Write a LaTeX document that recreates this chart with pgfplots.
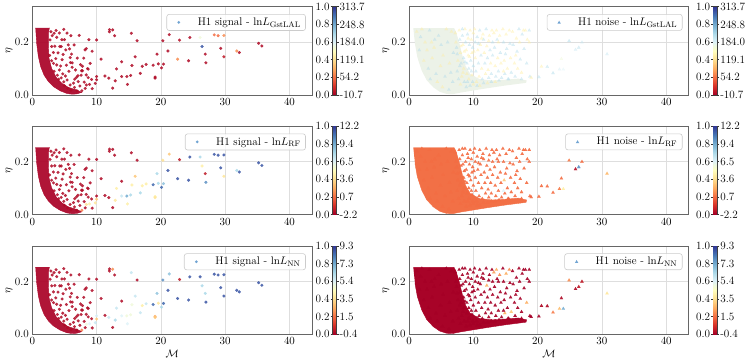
\documentclass[border=0pt]{standalone}
\usepackage{pgfplots}
\pgfplotsset{compat=1.18}
\usepackage{pgfplotstable}
\definecolor{sigred}{RGB}{172,8,44}
\definecolor{noiseor}{RGB}{242,112,70}
\definecolor{noisered}{RGB}{168,3,40}
\definecolor{noisepale}{RGB}{236,242,232}
\definecolor{legblue}{RGB}{78,142,200}
\pgfplotsset{
 colormap={RdYlBu}{rgb255=(165,0,38) rgb255=(215,48,39) rgb255=(244,109,67) rgb255=(253,174,97) rgb255=(254,224,144) rgb255=(255,255,191) rgb255=(224,243,248) rgb255=(171,217,233) rgb255=(116,173,209) rgb255=(69,117,180) rgb255=(49,54,149)},
 every axis/.append style={font=\fontsize{11.2}{13}\selectfont},
 panel/.style={anchor=south west, scale only axis, width=279.7bp, height=88.3bp,
   xmin=0, xmax=43.5, ymin=0, ymax=0.335,
   xtick={0,10,20,30,40}, ytick={0,0.2}, yticklabels={0.0,0.2},
   major tick length=0pt, grid=major, grid style={black!13, line width=0.6bp},
   axis line style={black!60, line width=0.75bp},
   ylabel={$\eta$}, ylabel style={at={(axis description cs:-0.083,0.5)}, anchor=center},
   colormap name=RdYlBu, point meta min=0, point meta max=1,
   legend cell align=left,
   legend style={at={(0.978,0.917)}, anchor=north east, draw=black!20, line width=0.6bp,
     rounded corners=2.5bp, fill=white, fill opacity=0.8, text opacity=1, draw opacity=1,
     inner xsep=3bp, inner ysep=1.5bp, font=\fontsize{11.2}{13}\selectfont},
 },
 siglegend/.style={legend image code/.code={\path[draw=none,fill=none] (0bp,-2bp) rectangle (26bp,2bp); \fill[legblue,draw=none,rounded corners=0pt] (9bp,0bp) circle (1.5bp);}},
 noiselegend/.style={legend image code/.code={\path[draw=none,fill=none] (0bp,-2bp) rectangle (26bp,2bp); \fill[legblue,draw=none,rounded corners=0pt] (7.3bp,-1.3bp) -- (10.7bp,-1.3bp) -- (9bp,1.7bp) -- cycle;}},
 cbbase/.style={anchor=south west, scale only axis, width=3.8bp, height=88.3bp,
   xmin=0, xmax=1, ymin=0, ymax=1, xtick=\empty, ytick={0,0.2,0.4,0.6,0.8,1},
   ytick align=outside, major tick length=2bp,
   tick style={black!80, line width=0.5bp}, axis line style={black!75, line width=0.5bp},
   colormap name=RdYlBu, point meta min=0, point meta max=1,
   yticklabel style={inner xsep=1bp}},
 cbarA/.style={cbbase, ytick pos=left, yticklabel pos=left, yticklabels={0.0,0.2,0.4,0.6,0.8,1.0}},
 cbarB/.style={cbbase, axis x line=none, axis y line*=right, ytick pos=right, yticklabel pos=right},
 sigscat/.style={scatter, only marks, mark=*, mark size=1.5bp, scatter src=explicit, forget plot,
   scatter/use mapped color={draw=mapped color, fill=mapped color}, mark options={line width=0.1bp}, opacity=0.85},
 noisescat/.style={scatter, only marks, mark=triangle*, mark size=1.9bp, scatter src=explicit, forget plot,
   scatter/use mapped color={draw=mapped color, fill=mapped color}, mark options={line width=0.1bp}, opacity=#1},
}
\newcommand{\cbar}[3]{%
\begin{axis}[cbarA, at={(#1,#2)}]
\addplot[surf, shader=interp, mesh/rows=2, point meta=explicit] coordinates {(0,0) [0] (1,0) [0] (0,1) [1] (1,1) [1]};
\end{axis}
\begin{axis}[cbarB, at={(#1,#2)}, yticklabels={#3}]
\end{axis}}

\pgfplotstableread{
x y g r n
3.39 0.234 0.02 0.02 0.02
3.80 0.219 0.02 0.02 0.02
4.27 0.184 0.02 0.02 0.02
4.79 0.154 0.02 0.02 0.02
5.21 0.171 0.02 0.02 0.02
4.64 0.134 0.02 0.02 0.02
5.31 0.113 0.02 0.02 0.02
5.94 0.123 0.02 0.02 0.02
6.20 0.105 0.02 0.02 0.02
6.72 0.095 0.02 0.02 0.02
7.50 0.115 0.02 0.02 0.02
7.66 0.092 0.02 0.02 0.02
8.59 0.100 0.02 0.02 0.02
8.39 0.076 0.02 0.02 0.02
6.88 0.067 0.02 0.02 0.02
7.14 0.051 0.02 0.02 0.02
7.40 0.034 0.02 0.02 0.02
8.07 0.049 0.02 0.02 0.02
8.70 0.066 0.02 0.02 0.02
9.22 0.059 0.02 0.02 0.02
9.32 0.024 0.02 0.02 0.02
8.23 0.025 0.02 0.02 0.02
6.93 0.016 0.02 0.02 0.02
6.56 0.029 0.02 0.02 0.02
5.89 0.038 0.02 0.02 0.02
5.42 0.057 0.02 0.02 0.02
5.16 0.072 0.02 0.02 0.02
4.74 0.080 0.02 0.02 0.02
4.22 0.095 0.02 0.02 0.02
3.80 0.114 0.02 0.02 0.02
3.65 0.138 0.02 0.02 0.02
3.28 0.161 0.02 0.02 0.02
3.02 0.184 0.02 0.02 0.02
2.76 0.209 0.02 0.02 0.02
2.9 0.240 0.02 0.02 0.02
3.1 0.225 0.02 0.02 0.02
2.7 0.150 0.02 0.02 0.02
3.0 0.130 0.02 0.02 0.02
3.3 0.120 0.02 0.02 0.02
3.4 0.090 0.02 0.02 0.02
3.9 0.075 0.02 0.02 0.02
4.1 0.060 0.02 0.02 0.02
4.5 0.065 0.02 0.02 0.02
4.9 0.050 0.02 0.02 0.02
5.0 0.035 0.02 0.02 0.02
5.5 0.025 0.02 0.02 0.02
6.0 0.018 0.02 0.02 0.02
6.4 0.045 0.02 0.02 0.02
5.7 0.090 0.02 0.02 0.02
4.4 0.110 0.02 0.02 0.02
4.0 0.160 0.02 0.02 0.02
3.5 0.185 0.02 0.02 0.02
3.7 0.245 0.02 0.02 0.02
4.2 0.235 0.02 0.02 0.02
5.0 0.210 0.02 0.02 0.02
5.4 0.235 0.02 0.02 0.02
6.5 0.190 0.02 0.02 0.02
7.0 0.140 0.02 0.02 0.02
6.6 0.060 0.02 0.02 0.02
7.6 0.075 0.02 0.02 0.02
8.0 0.140 0.02 0.02 0.02
9.0 0.120 0.02 0.02 0.02
8.8 0.210 0.02 0.02 0.02
4.9 0.249 0.02 0.02 0.02
6.0 0.225 0.02 0.02 0.02
7.3 0.226 0.02 0.02 0.02
10.0 0.209 0.02 0.02 0.02
12.0 0.248 0.02 0.02 0.02
12.0 0.240 0.02 0.02 0.02
12.5 0.247 0.02 0.02 0.25
12.8 0.225 0.02 0.02 0.02
15.4 0.234 0.02 0.02 0.65
16.3 0.206 0.02 0.02 0.02
4.6 0.210 0.02 0.02 0.02
5.6 0.190 0.02 0.02 0.02
5.8 0.175 0.02 0.02 0.02
4.5 0.184 0.02 0.02 0.02
6.1 0.155 0.02 0.02 0.02
5.9 0.142 0.02 0.02 0.02
8.2 0.171 0.02 0.02 0.02
8.4 0.176 0.02 0.02 0.02
9.3 0.166 0.02 0.02 0.02
6.2 0.122 0.02 0.02 0.02
7.8 0.109 0.02 0.02 0.02
8.7 0.098 0.02 0.02 0.02
7.8 0.092 0.02 0.02 0.02
7.1 0.073 0.02 0.02 0.02
10.7 0.136 0.02 0.02 0.02
10.0 0.070 0.02 0.02 0.62
11.3 0.072 0.02 0.02 0.02
11.9 0.064 0.02 0.02 0.65
12.5 0.026 0.02 0.02 0.02
13.9 0.126 0.02 0.02 0.02
13.9 0.070 0.02 0.65 0.60
13.1 0.099 0.02 0.45 0.65
12.9 0.054 0.02 0.42 0.70
14.7 0.070 0.02 0.80 0.55
15.3 0.074 0.02 0.70 0.55
14.8 0.040 0.02 0.45 0.60
15.5 0.112 0.02 0.45 0.55
16.0 0.145 0.02 0.35 0.65
16.8 0.082 0.02 0.70 0.65
17.1 0.109 0.02 0.45 0.45
17.7 0.116 0.02 0.45 0.65
18.8 0.113 0.02 0.92 0.92
19.6 0.118 0.02 0.70 0.42
20.4 0.117 0.02 0.75 0.92
20.1 0.103 0.02 0.92 0.70
19.4 0.155 0.02 0.70 0.75
19.1 0.068 0.02 0.45 0.30
19.1 0.064 0.02 0.42 0.35
21.1 0.167 0.02 0.95 0.95
21.3 0.229 0.02 0.35 0.75
20.3 0.206 0.02 0.40 0.85
22.9 0.208 0.03 0.05 0.05
22.6 0.136 0.25 0.95 0.95
24.3 0.130 0.02 0.95 0.95
24.5 0.218 0.02 0.95 0.95
26.1 0.218 0.55 0.70 0.95
26.4 0.184 0.95 0.45 0.70
26.9 0.155 0.02 0.05 0.70
27.0 0.122 0.02 0.85 0.95
28.3 0.228 0.20 0.95 0.95
28.9 0.225 0.20 0.95 0.95
29.8 0.226 0.25 0.95 0.95
29.3 0.177 0.02 0.95 0.95
29.8 0.145 0.05 0.42 0.95
31.8 0.167 0.25 0.70 0.95
32.2 0.161 0.02 0.95 0.95
35.2 0.196 0.02 0.95 0.95
35.7 0.186 0.02 0.95 0.95
7.7 0.016 0.02 0.22 0.22
8.4 0.038 0.02 0.40 0.55
8.9 0.040 0.02 0.45 0.60
9.8 0.044 0.02 0.42 0.65
10.0 0.058 0.02 0.35 0.35
}\sigpts

\pgfplotstableread{
x y g r n
1.2 0.240 0.45 0.2 0
1.8 0.220 0.68 0.2 0
2.5 0.200 0.45 0.2 0
3.2 0.245 0.68 0.2 0
3.9 0.180 0.45 0.2 0
4.6 0.225 0.68 0.2 0
5.3 0.150 0.45 0.2 0
6.0 0.200 0.68 0.2 0
6.6 0.240 0.45 0.2 0
1.6 0.170 0.68 0.2 0
2.3 0.130 0.45 0.2 0
3.0 0.100 0.68 0.2 0
3.6 0.140 0.45 0.2 0
4.2 0.080 0.68 0.2 0
4.9 0.110 0.45 0.2 0
5.6 0.070 0.68 0.2 0
6.3 0.120 0.45 0.2 0
6.8 0.050 0.68 0.2 0
5.2 0.030 0.45 0.2 0
6.2 0.020 0.68 0.2 0
4.4 0.050 0.45 0.2 0
3.3 0.060 0.68 0.2 0
2.8 0.170 0.45 0.2 0
4.0 0.210 0.68 0.2 0
5.8 0.250 0.45 0.2 0
6.9 0.160 0.68 0.2 0
2.0 0.250 0.45 0.2 0
5.0 0.190 0.68 0.2 0
3.5 0.200 0.45 0.2 0
6.5 0.085 0.68 0.2 0
7.2 0.235 0.45 0.2 0
7.4 0.180 0.68 0.2 0
7.6 0.130 0.45 0.2 0
7.5 0.090 0.68 0.2 0
7.8 0.245 0.45 0.2 0
7.9 0.210 0.68 0.2 0
8.0 0.160 0.45 0.2 0
8.1 0.120 0.68 0.2 0
8.2 0.070 0.45 0.2 0
8.3 0.225 0.68 0.2 0
8.4 0.190 0.45 0.2 0
8.5 0.140 0.68 0.2 0
8.5 0.100 0.45 0.2 0
8.6 0.050 0.68 0.2 0
8.7 0.250 0.45 0.2 0
8.8 0.200 0.68 0.2 0
8.9 0.170 0.45 0.2 0
9.0 0.120 0.68 0.2 0
9.0 0.080 0.45 0.2 0
9.1 0.230 0.68 0.2 0
9.2 0.150 0.45 0.2 0
9.3 0.100 0.68 0.2 0
9.3 0.060 0.45 0.2 0
9.4 0.190 0.68 0.2 0
9.5 0.245 0.45 0.2 0
9.6 0.130 0.68 0.2 0
9.7 0.210 0.45 0.2 0
9.7 0.090 0.68 0.2 0
9.8 0.160 0.45 0.2 0
9.9 0.050 0.68 0.2 0
10.0 0.235 0.45 0.2 0
10.0 0.110 0.68 0.2 0
7.3 0.200 0.45 0.2 0
7.7 0.060 0.68 0.2 0
8.0 0.040 0.45 0.2 0
8.3 0.250 0.68 0.2 0
8.6 0.165 0.45 0.2 0
8.9 0.030 0.68 0.2 0
9.2 0.215 0.45 0.2 0
9.5 0.035 0.68 0.2 0
9.8 0.075 0.45 0.2 0
7.5 0.155 0.68 0.2 0
8.1 0.185 0.45 0.2 0
8.7 0.125 0.68 0.2 0
9.4 0.145 0.45 0.2 0
9.9 0.180 0.68 0.2 0
10.0 0.040 0.45 0.2 0
7.9 0.110 0.68 0.2 0
8.4 0.085 0.45 0.2 0
9.1 0.050 0.68 0.2 0
10.2 0.250 0.45 0.2 0
10.3 0.200 0.68 0.2 0
10.3 0.140 0.45 0.2 0
10.4 0.090 0.68 0.2 0
10.5 0.050 0.45 0.2 0
10.6 0.220 0.68 0.2 0
10.7 0.170 0.45 0.2 0
10.8 0.120 0.68 0.2 0
10.9 0.070 0.45 0.2 0
11.0 0.245 0.68 0.2 0
11.1 0.190 0.45 0.2 0
11.2 0.150 0.68 0.2 0
11.3 0.100 0.45 0.2 0
11.4 0.060 0.68 0.2 0
11.5 0.230 0.45 0.2 0
11.6 0.210 0.68 0.2 0
11.7 0.160 0.45 0.2 0
11.8 0.120 0.68 0.2 0
11.9 0.080 0.45 0.2 0
12.0 0.250 0.68 0.2 0
12.1 0.185 0.45 0.2 0.30
12.2 0.140 0.68 0.2 0
12.3 0.095 0.45 0.2 0
12.4 0.065 0.68 0.2 0
12.5 0.225 0.45 0.2 0
12.6 0.170 0.68 0.2 0
12.7 0.120 0.45 0.2 0
12.8 0.080 0.68 0.2 0
12.9 0.245 0.45 0.2 0
13.0 0.200 0.68 0.2 0
10.1 0.165 0.45 0.2 0
10.6 0.035 0.68 0.2 0
11.0 0.035 0.45 0.2 0
11.6 0.045 0.68 0.2 0
12.2 0.045 0.45 0.2 0
12.8 0.050 0.68 0.2 0
11.3 0.215 0.45 0.2 0
10.8 0.195 0.68 0.2 0
12.4 0.205 0.45 0.2 0
13.0 0.150 0.68 0.2 0
13.2 0.235 0.45 0.2 0.28
13.3 0.180 0.68 0.2 0
13.4 0.110 0.45 0.2 0
13.5 0.070 0.68 0.2 0
13.6 0.245 0.45 0.2 0.30
13.7 0.210 0.68 0.2 0
13.8 0.140 0.45 0.2 0
13.9 0.090 0.68 0.2 0
14.1 0.225 0.45 0.2 0.25
14.2 0.160 0.68 0.2 0
14.3 0.120 0.45 0.2 0
14.4 0.065 0.68 0.2 0
14.6 0.250 0.45 0.2 0
14.7 0.200 0.68 0.2 0
14.8 0.130 0.45 0.35 0
14.9 0.080 0.68 0.2 0.30
15.1 0.230 0.45 0.2 0.30
15.2 0.175 0.68 0.2 0
15.3 0.100 0.45 0.2 0
15.4 0.060 0.68 0.2 0
15.6 0.245 0.45 0.2 0.25
15.7 0.195 0.68 0.2 0
15.8 0.140 0.45 0.2 0
15.9 0.085 0.68 0.2 0.35
13.4 0.050 0.45 0.2 0
14.0 0.055 0.68 0.2 0
14.7 0.090 0.45 0.60 0
15.5 0.060 0.68 0.2 0
13.9 0.200 0.45 0.2 0
15.0 0.155 0.68 0.2 0
16.1 0.240 0.45 0.2 0
16.2 0.190 0.68 0.2 0
16.4 0.120 0.45 0.2 0
16.5 0.070 0.68 0.2 0
16.7 0.215 0.45 0.2 0
16.8 0.165 0.68 0.2 0
16.9 0.100 0.45 0.2 0
17.1 0.250 0.68 0.2 0
17.2 0.200 0.45 0.2 0
17.3 0.135 0.68 0.2 0
17.5 0.085 0.45 0.2 0
17.6 0.230 0.68 0.2 0
17.8 0.245 0.45 0.2 0
17.9 0.175 0.68 0.2 0
18.1 0.245 0.45 0.2 0
18.3 0.120 0.68 0.2 0.30
18.4 0.210 0.45 0.2 0
18.7 0.245 0.68 0.2 0
18.7 0.200 0.45 0.2 0
18.8 0.070 0.68 0.2 0
16.6 0.150 0.45 0.2 0
17.5 0.060 0.68 0.2 0
19.0 0.066 0.45 0.2 0
20.2 0.068 0.68 0.2 0
20.6 0.108 0.45 0.2 0.02
21.5 0.107 0.68 0.2 0.02
22.4 0.083 0.70 0.2 0.22
23.4 0.097 0.62 0.22 0.33
24.0 0.097 0.60 0.45 0.80
23.7 0.137 0.55 0.2 0.02
24.9 0.205 0.70 0.22 0.25
25.9 0.172 0.65 0.03 0.02
26.4 0.180 0.68 0.85 0.05
26.9 0.200 0.65 0.2 0.05
30.8 0.155 0.65 0.32 0.42
}\noisepts

\begin{document}
\begin{tikzpicture}
\path[use as bounding box] (0,0) rectangle (747bp,363bp);

% ---------- row 1 left
\begin{axis}[panel, at={(32.3bp,268bp)}, siglegend]
\addlegendimage{only marks}
\addlegendentry{H1 signal - $\mathrm{ln}L_{\mathrm{GstLAL}}$}
\addplot[fill=sigred, draw=sigred, line width=0.4bp, fill opacity=0.95, forget plot] coordinates {(0.52,0.255) (0.68,0.196) (0.94,0.146) (1.30,0.108) (1.82,0.076) (2.5,0.051) (3.28,0.032) (4.32,0.016) (5.36,0.006) (6.15,0.003) (6.9,0.004) (7.7,0.010) (6.9,0.019) (5.6,0.029) (4.6,0.044) (3.7,0.067) (3.0,0.101) (2.6,0.139) (2.5,0.184) (2.5,0.234) (2.66,0.255)};
\addplot[sigscat] table[x=x, y=y, meta=g] {\sigpts};
\end{axis}
\cbar{332.7bp}{268bp}{-10.7,54.2,119.1,184.0,248.8,313.7}

% ---------- row 1 right
\begin{axis}[panel, at={(409bp,268bp)}, noiselegend]
\addlegendimage{only marks}
\addlegendentry{H1 noise - $\mathrm{ln}L_{\mathrm{GstLAL}}$}
\addplot[fill=noisepale, draw=none, forget plot] coordinates {(0.67,0.254) (7.0,0.254) (7.3,0.24) (7.8,0.20) (8.3,0.15) (8.8,0.11) (9.5,0.08) (11,0.06) (13,0.055) (15,0.058) (17,0.062) (18.3,0.055) (18.2,0.046) (15,0.036) (12,0.025) (10,0.017) (8,0.009) (6.8,0.003) (5.85,0.004) (4.8,0.012) (3.78,0.029) (2.75,0.056) (1.97,0.093) (1.3,0.143) (0.93,0.193)};
\addplot[noisescat=0.45] table[x=x, y=y, meta=g] {\noisepts};
\end{axis}
\cbar{713.3bp}{268bp}{-10.7,54.2,119.1,184.0,248.8,313.7}

% ---------- row 2 left
\begin{axis}[panel, at={(32.3bp,148.5bp)}, siglegend]
\addlegendimage{only marks}
\addlegendentry{H1 signal - $\mathrm{ln}L_{\mathrm{RF}}$}
\addplot[fill=sigred, draw=sigred, line width=0.4bp, fill opacity=0.95, forget plot] coordinates {(0.52,0.255) (0.68,0.196) (0.94,0.146) (1.30,0.108) (1.82,0.076) (2.5,0.051) (3.28,0.032) (4.32,0.016) (5.36,0.006) (6.15,0.003) (6.9,0.004) (7.7,0.010) (6.9,0.019) (5.6,0.029) (4.6,0.044) (3.7,0.067) (3.0,0.101) (2.6,0.139) (2.5,0.184) (2.5,0.234) (2.66,0.255)};
\addplot[sigscat] table[x=x, y=y, meta=r] {\sigpts};
\end{axis}
\cbar{332.7bp}{148.5bp}{-2.2,0.7,3.6,6.5,9.4,12.2}

% ---------- row 2 right
\begin{axis}[panel, at={(409bp,148.5bp)}, noiselegend]
\addlegendimage{only marks}
\addlegendentry{H1 noise - $\mathrm{ln}L_{\mathrm{RF}}$}
\addplot[fill=noiseor, draw=noiseor, line width=0.4bp, forget plot] coordinates {(0.67,0.254) (7.0,0.254) (7.3,0.24) (7.8,0.20) (8.3,0.15) (8.8,0.11) (9.5,0.08) (11,0.06) (13,0.055) (15,0.058) (17,0.062) (18.3,0.055) (18.2,0.046) (15,0.036) (12,0.025) (10,0.017) (8,0.009) (6.8,0.003) (5.85,0.004) (4.8,0.012) (3.78,0.029) (2.75,0.056) (1.97,0.093) (1.3,0.143) (0.93,0.193)};
\addplot[noisescat=0.9] table[x=x, y=y, meta=r] {\noisepts};
\end{axis}
\cbar{713.3bp}{148.5bp}{-2.2,0.7,3.6,6.5,9.4,12.2}

% ---------- row 3 left
\begin{axis}[panel, at={(32.3bp,28.7bp)}, siglegend,
  xlabel={$\mathcal{M}$}, xlabel style={at={(axis description cs:0.5,-0.215)}, anchor=center}]
\addlegendimage{only marks}
\addlegendentry{H1 signal - $\mathrm{ln}L_{\mathrm{NN}}$}
\addplot[fill=sigred, draw=sigred, line width=0.4bp, fill opacity=0.95, forget plot] coordinates {(0.52,0.255) (0.68,0.196) (0.94,0.146) (1.30,0.108) (1.82,0.076) (2.5,0.051) (3.28,0.032) (4.32,0.016) (5.36,0.006) (6.15,0.003) (6.9,0.004) (7.7,0.010) (6.9,0.019) (5.6,0.029) (4.6,0.044) (3.7,0.067) (3.0,0.101) (2.6,0.139) (2.5,0.184) (2.5,0.234) (2.66,0.255)};
\addplot[sigscat] table[x=x, y=y, meta=n] {\sigpts};
\end{axis}
\cbar{332.7bp}{28.7bp}{-0.4,1.5,3.5,5.4,7.3,9.3}

% ---------- row 3 right
\begin{axis}[panel, at={(409bp,28.7bp)}, noiselegend,
  xlabel={$\mathcal{M}$}, xlabel style={at={(axis description cs:0.5,-0.215)}, anchor=center}]
\addlegendimage{only marks}
\addlegendentry{H1 noise - $\mathrm{ln}L_{\mathrm{NN}}$}
\addplot[fill=noisered, draw=noisered, line width=0.4bp, forget plot] coordinates {(0.67,0.254) (7.0,0.254) (7.3,0.24) (7.8,0.20) (8.3,0.15) (8.8,0.11) (9.5,0.08) (11,0.06) (13,0.055) (15,0.058) (17,0.062) (18.3,0.055) (18.2,0.046) (15,0.036) (12,0.025) (10,0.017) (8,0.009) (6.8,0.003) (5.85,0.004) (4.8,0.012) (3.78,0.029) (2.75,0.056) (1.97,0.093) (1.3,0.143) (0.93,0.193)};
\addplot[noisescat=0.9] table[x=x, y=y, meta=n] {\noisepts};
\end{axis}
\cbar{713.3bp}{28.7bp}{-0.4,1.5,3.5,5.4,7.3,9.3}
\end{tikzpicture}
\end{document}
